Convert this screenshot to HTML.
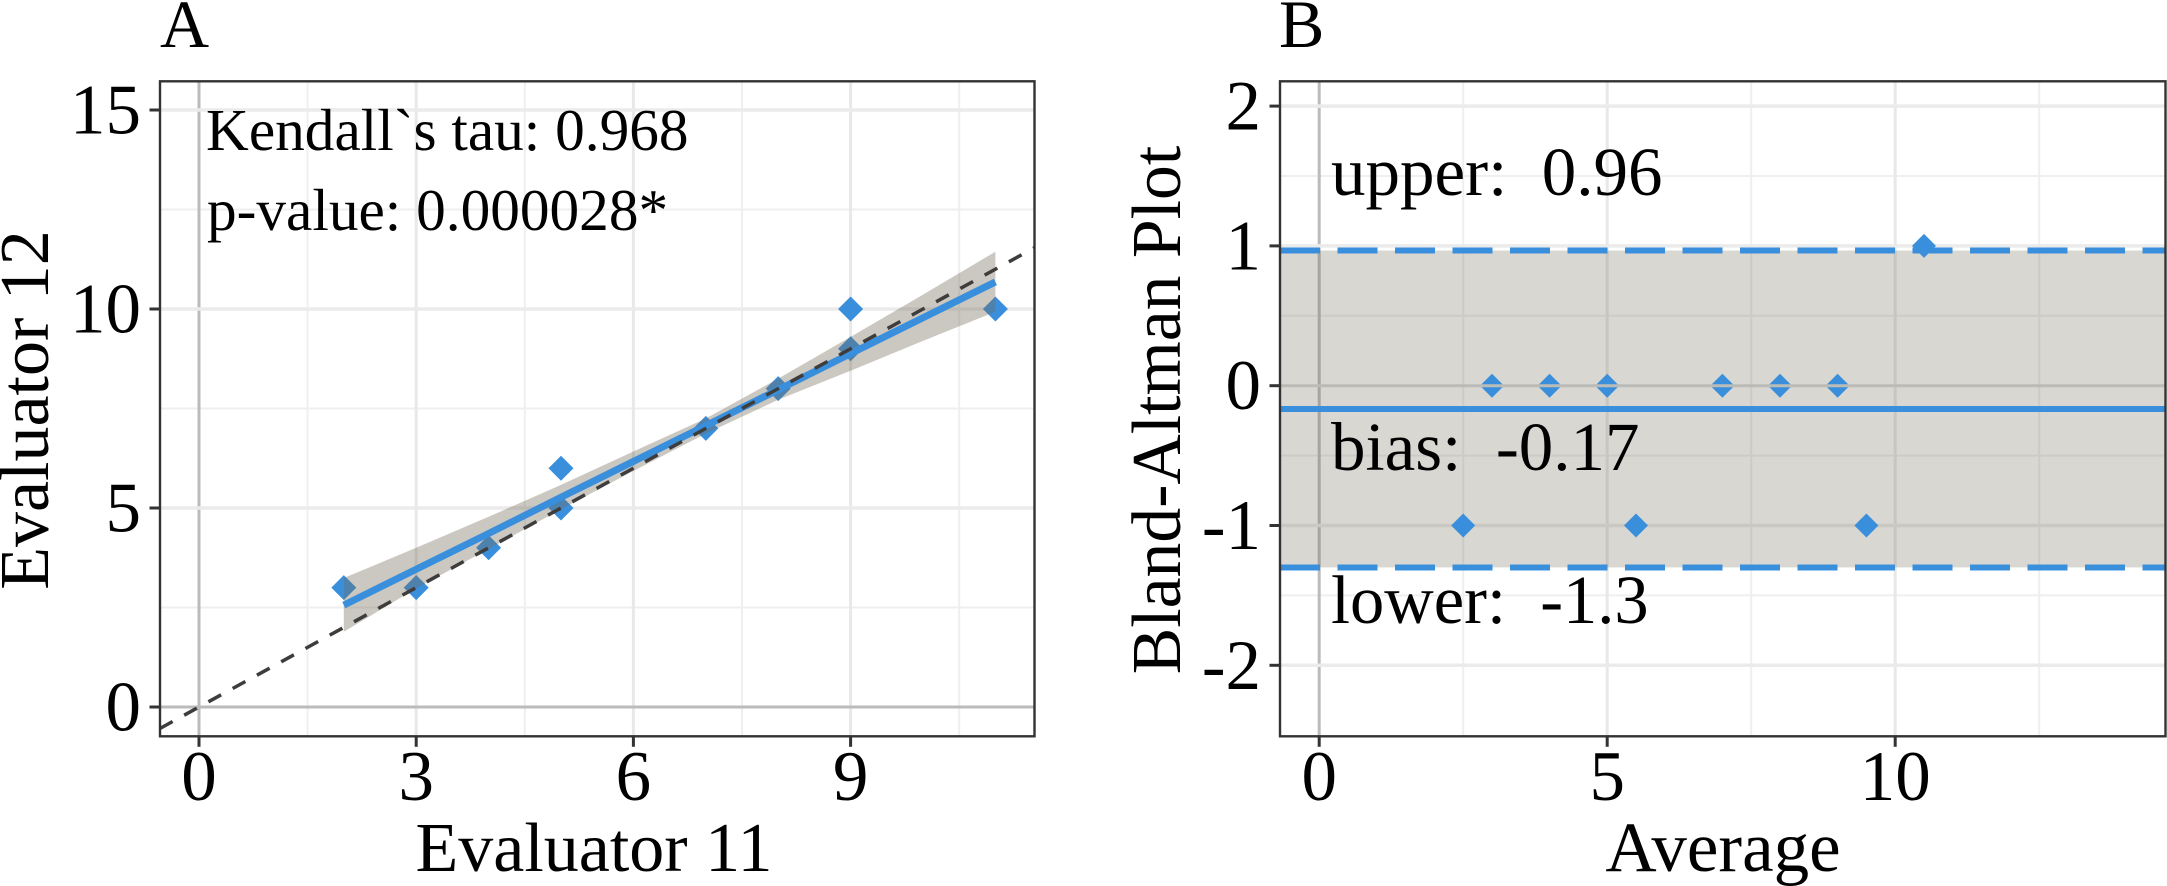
<!DOCTYPE html>
<html lang="en">
<head>
<meta charset="utf-8">
<title>Evaluator agreement plots</title>
<style>
  html, body { margin: 0; padding: 0; background: #fff; width: 2167px; height: 886px; overflow: hidden; }
  svg { display: block; }
  text { font-family: "Liberation Serif", "Times New Roman", serif; fill: #000; white-space: pre; }
</style>
</head>
<body>
<svg id="figure" width="2167" height="886" viewBox="0 0 2167 886">
  <defs>
    <clipPath id="clip-a"><rect x="160" y="81.3" width="874.5" height="655"></rect></clipPath>
    <clipPath id="clip-b"><rect x="1280" y="81.3" width="885.5" height="655"></rect></clipPath>
  </defs>
  <g id="panel-a" clip-path="url(#clip-a)"></g>
  <g id="panel-b" clip-path="url(#clip-b)"></g>
  <g id="axes"></g>

  <text x="160" y="47" font-size="68">A</text>
  <text x="1279" y="47" font-size="68">B</text>

  <text x="206" y="150" font-size="59.3">Kendall`s tau: 0.968</text>
  <text x="207" y="230" font-size="59.3">p-value: 0.000028*</text>

  <text x="1331" y="195" font-size="69">upper:  0.96</text>
  <text x="1331" y="470" font-size="69">bias:  -0.17</text>
  <text x="1331" y="623" font-size="68.5">lower:  -1.3</text>

  <text x="594" y="871" font-size="70" text-anchor="middle">Evaluator 11</text>
  <text transform="translate(48 410) rotate(-90)" font-size="70" text-anchor="middle">Evaluator 12</text>
  <text x="1723" y="871" font-size="71" text-anchor="middle">Average</text>
  <text transform="translate(1180 410) rotate(-90)" font-size="69.7" text-anchor="middle">Bland-Altman Plot</text>
</svg>

<script>
// ---- Panel A data ----
const evaluator11 = [2, 3, 4, 5, 5, 7, 8, 9, 9, 11];
const evaluator12 = [3, 3, 4, 5, 6, 7, 8, 9, 10, 10];
const fitX = [2, 3, 4, 5, 6, 7, 8, 9, 10, 11];
const fitY = [2.56, 3.46, 4.36, 5.27, 6.17, 7.07, 7.97, 8.88, 9.78, 10.68];
const fitUpper = [3.24, 4.0, 4.78, 5.58, 6.42, 7.25, 8.25, 9.3, 10.36, 11.44];
const fitLower = [1.89, 2.98, 3.97, 4.97, 5.93, 6.87, 7.72, 8.45, 9.2, 9.93];
const identityEnds = [-0.54, 11.54];
const xTicksA = [0, 3, 6, 9];
const yTicksA = [0, 5, 10, 15];
const xMinorA = [1.5, 4.5, 7.5, 10.5];
const yMinorA = [2.5, 7.5, 12.5];

// ---- Panel B data ----
const averages = [2.5, 3, 4, 5, 5.5, 7, 8, 9, 9.5, 10.5];
const differences = [-1, 0, 0, 0, -1, 0, 0, 0, -1, 1];
const upperLimit = [0.967];
const biasValue = [-0.167];
const lowerLimit = [-1.3];
const xTicksB = [0, 5, 10];
const yTicksB = [-2, -1, 0, 1, 2];
const xMinorB = [2.5, 7.5, 12.5];
const yMinorB = [-1.5, -0.5, 0.5, 1.5];

// ---- Axis functions ----
function xA(v) { return 199 + 72.4 * v; }
function yA(v) { return 707 - 39.8 * v; }
function xB(v) { return 1319.2 + 57.6 * v; }
function yB(v) { return 385.7 - 139.8 * v; }

const PANEL_A = { left: 160, right: 1034.5, top: 81.3, bottom: 736.3 };
const PANEL_B = { left: 1280, right: 2165.5, top: 81.3, bottom: 736.3 };
const BLUE = '#3a8fdc';
const NS = 'http://www.w3.org/2000/svg';

function add(parent, tag, attrs) {
  const node = document.createElementNS(NS, tag);
  for (const k in attrs) node.setAttribute(k, attrs[k]);
  parent.appendChild(node);
  return node;
}
function diamondPoints(cx, cy, r) {
  return [[cx, cy - r], [cx + r, cy], [cx, cy + r], [cx - r, cy]].map(function (p) { return p.join(','); }).join(' ');
}

const panelA = document.getElementById('panel-a');
const panelB = document.getElementById('panel-b');
const axes = document.getElementById('axes');

function drawGrid(parent, panel, sx, sy, xMajor, yMajor, xMinor, yMinor) {
  xMinor.forEach(function (v) {
    const el = add(parent, 'line', { x1: sx(v), x2: sx(v), y1: panel.top, y2: panel.bottom, stroke: '#efefef', 'stroke-width': 2 });
    
    
  });
  yMinor.forEach(function (v) {
    const el = add(parent, 'line', { x1: panel.left, x2: panel.right, y1: sy(v), y2: sy(v), stroke: '#efefef', 'stroke-width': 2 });
    
    
  });
  xMajor.forEach(function (v) {
    const isZero = v === 0;
    const el = add(parent, 'line', { x1: sx(v), x2: sx(v), y1: panel.top, y2: panel.bottom, stroke: isZero ? '#bbbbbb' : '#e8e8e8', 'stroke-width': 3 });
    
    
  });
  yMajor.forEach(function (v) {
    const isZero = v === 0;
    const el = add(parent, 'line', { x1: panel.left, x2: panel.right, y1: sy(v), y2: sy(v), stroke: isZero ? '#bbbbbb' : '#ebebeb', 'stroke-width': isZero ? 3 : 3.5 });
    
    
  });
}

function drawAxes(panel, sx, sy, xTicks, yTicks, labelRight) {
  const frame = add(axes, 'rect', { x: panel.left, y: panel.top, width: panel.right - panel.left, height: panel.bottom - panel.top, fill: 'none', stroke: '#333333', 'stroke-width': 2.4 });
  
  
  xTicks.forEach(function (v) {
    const tick = add(axes, 'line', { x1: sx(v), x2: sx(v), y1: panel.bottom, y2: panel.bottom + 10.5, stroke: '#333333', 'stroke-width': 3 });
    
    
    const label = add(axes, 'text', { x: sx(v), y: 800, 'font-size': 71, 'text-anchor': 'middle' });
    label.textContent = String(v);
    
    
  });
  yTicks.forEach(function (v) {
    const tick = add(axes, 'line', { x1: panel.left - 10.5, x2: panel.left, y1: sy(v), y2: sy(v), stroke: '#333333', 'stroke-width': 3 });
    
    
    const label = add(axes, 'text', { x: labelRight, y: sy(v) + 23.5, 'font-size': 71, 'text-anchor': 'end' });
    label.textContent = String(v);
    
    
  });
}

// ---- Panel A ----
drawGrid(panelA, PANEL_A, xA, yA, xTicksA, yTicksA, xMinorA, yMinorA);

evaluator11.forEach(function (v, i) {
  const el = add(panelA, 'polygon', { points: diamondPoints(xA(v), yA(evaluator12[i]), 12.5), fill: BLUE });
  
  
});

const ribbonTop = fitX.map(function (v, i) { return xA(v) + ',' + yA(fitUpper[i]); });
const ribbonBottom = fitX.map(function (v, i) { return xA(v) + ',' + yA(fitLower[i]); }).reverse();
const ribbon = add(panelA, 'polygon', { points: ribbonTop.concat(ribbonBottom).join(' '), fill: '#736a57', 'fill-opacity': 0.37 });



const fitLine = add(panelA, 'polyline', { points: fitX.map(function (v, i) { return xA(v) + ',' + yA(fitY[i]); }).join(' '), fill: 'none', stroke: BLUE, 'stroke-width': 7 });



const identityLine = add(panelA, 'line', { x1: xA(identityEnds[0]), y1: yA(identityEnds[0]), x2: xA(identityEnds[1]), y2: yA(identityEnds[1]), stroke: '#3f3d3c', 'stroke-width': 3.5, 'stroke-dasharray': '14.5 13.18' });



drawAxes(PANEL_A, xA, yA, xTicksA, yTicksA, 141);

// ---- Panel B ----
const yMajorNoZero = yTicksB.filter(function (v) { return v !== 0; });
drawGrid(panelB, PANEL_B, xB, yB, xTicksB.concat([15]), yMajorNoZero, xMinorB, yMinorB);

const band = add(panelB, 'rect', { x: PANEL_B.left, y: yB(upperLimit[0]), width: PANEL_B.right - PANEL_B.left, height: yB(lowerLimit[0]) - yB(upperLimit[0]), fill: '#736a57', 'fill-opacity': 0.27 });



averages.forEach(function (v, i) {
  const el = add(panelB, 'polygon', { points: diamondPoints(xB(v), yB(differences[i]), 12), fill: BLUE });
  
  
});

const zeroLineB = add(panelB, 'line', { x1: PANEL_B.left, x2: PANEL_B.right, y1: yB(0), y2: yB(0), stroke: '#bbbbb8', 'stroke-width': 3 });



const upperLine = add(panelB, 'line', { x1: PANEL_B.left, x2: PANEL_B.right, y1: yB(upperLimit[0]), y2: yB(upperLimit[0]), stroke: BLUE, 'stroke-width': 6, 'stroke-dasharray': '40 17.5' });



const lowerLine = add(panelB, 'line', { x1: PANEL_B.left, x2: PANEL_B.right, y1: yB(lowerLimit[0]), y2: yB(lowerLimit[0]), stroke: BLUE, 'stroke-width': 6, 'stroke-dasharray': '40 17.5' });



const biasLine = add(panelB, 'line', { x1: PANEL_B.left, x2: PANEL_B.right, y1: yB(biasValue[0]), y2: yB(biasValue[0]), stroke: BLUE, 'stroke-width': 6 });



drawAxes(PANEL_B, xB, yB, xTicksB, yTicksB, 1261);
</script>
</body>
</html>
